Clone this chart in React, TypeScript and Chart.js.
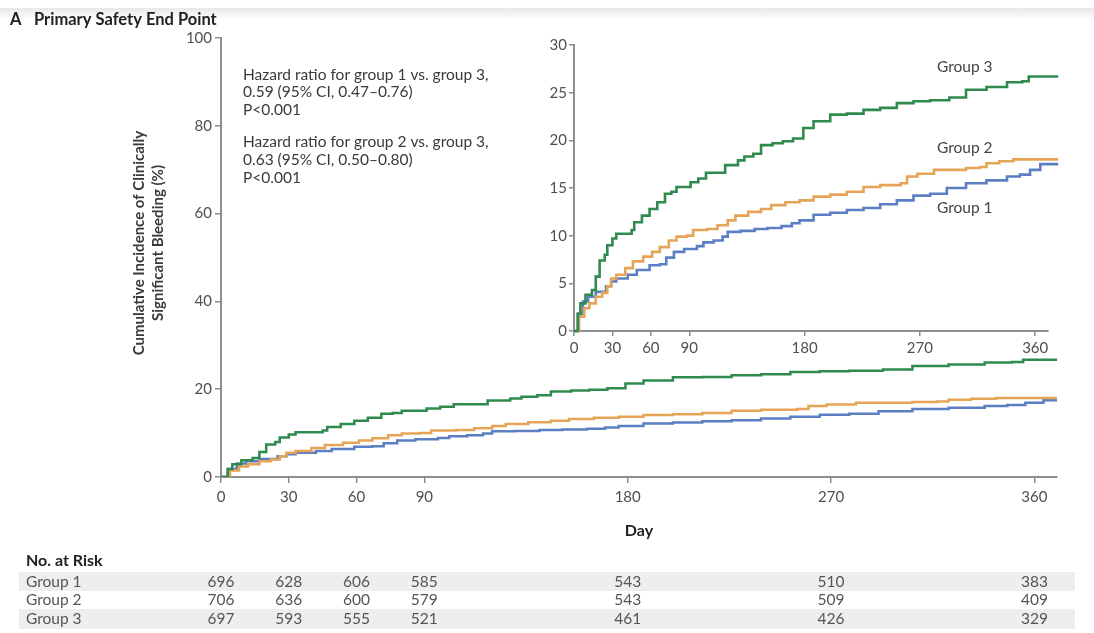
import React, { useEffect, useRef } from 'react';
import { Chart, registerables } from 'chart.js';

Chart.register(...registerables);

// ---------- data ----------
const group1Days = [0, 3, 7, 11, 17, 25, 29, 33, 42, 49, 59, 67, 72, 78, 86, 96, 101, 109, 116, 120, 130, 141, 151, 162, 170, 176, 187, 200, 213, 226, 239, 252, 265, 278, 291, 306, 322, 338, 348, 356, 364, 378];
const group1Values = [0, 1.8, 3.1, 3.6, 4.1, 4.7, 5.2, 5.5, 5.9, 6.4, 6.9, 7.0, 7.7, 8.3, 8.6, 8.9, 9.3, 9.5, 9.9, 10.4, 10.5, 10.7, 10.8, 11.0, 11.3, 11.6, 12.2, 12.4, 12.7, 12.9, 13.3, 13.7, 14.2, 14.4, 15.0, 15.5, 15.8, 16.2, 16.4, 16.9, 17.5, 17.5];

const group2Days = [0, 4, 8, 12, 17, 22, 26, 29, 33, 40, 46, 54, 61, 67, 74, 80, 88, 93, 104, 112, 120, 126, 136, 146, 154, 165, 176, 187, 200, 213, 226, 239, 255, 260, 268, 281, 306, 317, 322, 332, 343, 378];
const group2Values = [0, 1.5, 2.4, 2.9, 3.6, 4.0, 4.7, 5.5, 5.9, 6.6, 7.3, 7.8, 8.3, 8.8, 9.5, 9.9, 10.0, 10.6, 10.7, 11.1, 11.6, 12.1, 12.5, 12.8, 13.2, 13.5, 13.7, 14.1, 14.3, 14.6, 15.1, 15.3, 15.5, 16.2, 16.5, 16.9, 17.1, 17.2, 17.6, 17.8, 18.0, 18.0];

const group3Days = [0, 3, 5, 9, 14, 17, 20, 24, 26, 30, 33, 45, 47, 53, 59, 65, 71, 76, 80, 91, 97, 103, 118, 128, 133, 140, 146, 155, 163, 171, 179, 187, 200, 213, 226, 239, 252, 265, 278, 293, 306, 322, 338, 350, 355, 378];
const group3Values = [0, 1.8, 2.9, 3.8, 4.3, 5.7, 7.4, 8.0, 9.0, 9.7, 10.2, 10.6, 11.4, 12.1, 12.8, 13.5, 14.4, 14.6, 15.1, 15.6, 16.0, 16.6, 17.4, 17.9, 18.3, 18.6, 19.5, 19.7, 19.9, 20.2, 21.3, 22.0, 22.7, 22.8, 23.2, 23.4, 23.9, 24.1, 24.2, 24.5, 25.3, 25.6, 26.1, 26.2, 26.7, 26.7];

const xTickDays = [0, 30, 60, 90, 180, 270, 360];
const mainYTicks = [0, 20, 40, 60, 80, 100];
const insetYTicks = [0, 5, 10, 15, 20, 25, 30];

const riskGroupNames = ['Group 1', 'Group 2', 'Group 3'];
const riskGroup1 = [696, 628, 606, 585, 543, 510, 383];
const riskGroup2 = [706, 636, 600, 579, 543, 509, 409];
const riskGroup3 = [697, 593, 555, 521, 461, 426, 329];

const hazardLines = [
  'Hazard ratio for group 1 vs. group 3,',
  '0.59 (95% CI, 0.47\u20130.76)',
  'P<0.001',
  'Hazard ratio for group 2 vs. group 3,',
  '0.63 (95% CI, 0.50\u20130.80)',
  'P<0.001',
];
const yTitleLines = ['Cumulative Incidence of Clinically', 'Significant Bleeding (%)'];

// ---------- styles ----------
const FONT = "Lato, 'Open Sans', 'DejaVu Sans', sans-serif";
const GREEN = '#2f8a4e';
const ORANGE = '#e6a556';
const BLUE = '#5b7fc2';
const AXIS = '#8e8e8e';
const TICK_TEXT = '#505050';
const TEXT = '#3a3a3a';

const toPoints = (days: number[], vals: number[]) => days.map((d, i) => ({ x: d, y: vals[i] }));

function makeDatasets(width: number, clip: any) {
  return [
    { label: 'Group 3', data: toPoints(group3Days, group3Values), borderColor: GREEN, borderWidth: width, pointRadius: 0, stepped: true, fill: false, clip },
    { label: 'Group 2', data: toPoints(group2Days, group2Values), borderColor: ORANGE, borderWidth: width, pointRadius: 0, stepped: true, fill: false, clip },
    { label: 'Group 1', data: toPoints(group1Days, group1Values), borderColor: BLUE, borderWidth: width, pointRadius: 0, stepped: true, fill: false, clip },
  ];
}

function axisOpts(min: number, max: number, ticks: number[], tickLen: number, pad: number, fit: (s: any) => void) {
  return {
    type: 'linear' as const,
    min,
    max,
    afterFit: fit,
    afterBuildTicks: (s: any) => {
      s.ticks = ticks.map((v) => ({ value: v }));
    },
    ticks: { font: { family: FONT, size: 15 }, color: TICK_TEXT, padding: pad, autoSkip: false, maxRotation: 0 },
    grid: { drawOnChartArea: false, drawTicks: true, tickLength: tickLen, color: AXIS, lineWidth: 1.5 },
    border: { display: true, color: AXIS, width: 2 },
    title: { display: false },
  };
}

const mainDecor = {
  id: 'mainDecor',
  afterDraw(chart: any) {
    const ctx = chart.ctx as CanvasRenderingContext2D;
    const xs = chart.scales.x;
    ctx.save();
    // Panel title
    ctx.fillStyle = '#222';
    ctx.textBaseline = 'middle';
    ctx.textAlign = 'left';
    ctx.font = `bold 16.5px ${FONT}`;
    ctx.fillText('A', 10, 20);
    ctx.fillText('Primary Safety End Point', 34, 20);

    // Y-axis title (two lines, rotated)
    ctx.fillStyle = TEXT;
    ctx.font = `bold 15px ${FONT}`;
    ctx.textAlign = 'center';
    yTitleLines.forEach((line, i) => {
      ctx.save();
      ctx.translate(139 + i * 19, 243);
      ctx.rotate(-Math.PI / 2);
      ctx.fillText(line, 0, 0);
      ctx.restore();
    });

    // X-axis title
    ctx.font = `bold 16px ${FONT}`;
    ctx.fillStyle = '#222';
    ctx.fillText('Day', (chart.chartArea.left + chart.chartArea.right) / 2, 531);

    // Hazard ratio annotation
    ctx.font = `15.5px ${FONT}`;
    ctx.fillStyle = TEXT;
    ctx.textAlign = 'left';
    const hy = [75, 92, 109.5, 142, 160, 177.5];
    hazardLines.forEach((t, i) => ctx.fillText(t, 243, hy[i]));

    // Risk table
    ctx.fillStyle = '#eeeeee';
    ctx.fillRect(19, 572, 1056, 19);
    ctx.fillRect(19, 609, 1056, 20);
    ctx.fillStyle = '#222';
    ctx.font = `bold 16px ${FONT}`;
    ctx.fillText('No. at Risk', 26, 561);
    const rowsY = [582, 600, 619];
    const rows = [riskGroup1, riskGroup2, riskGroup3];
    ctx.font = `15.5px ${FONT}`;
    ctx.fillStyle = '#555';
    rows.forEach((row, r) => {
      ctx.textAlign = 'left';
      ctx.fillText(riskGroupNames[r], 26, rowsY[r]);
      ctx.textAlign = 'center';
      row.forEach((n, i) => {
        ctx.fillText(String(n), xs.getPixelForValue(xTickDays[i]), rowsY[r]);
      });
    });
    ctx.restore();
  },
};

const insetDecor = {
  id: 'insetDecor',
  afterDraw(chart: any) {
    const ctx = chart.ctx as CanvasRenderingContext2D;
    const c = chart.canvas.getBoundingClientRect();
    ctx.save();
    ctx.font = `15.5px ${FONT}`;
    ctx.fillStyle = '#444';
    ctx.textBaseline = 'middle';
    ctx.textAlign = 'left';
    const labels = ['Group 3', 'Group 2', 'Group 1'];
    const ly = [67, 148, 208];
    labels.forEach((t, i) => ctx.fillText(t, 937 - c.left, ly[i] - c.top));
    ctx.restore();
  },
};

// Inset placement
const INSET_LEFT = 520;
const INSET_TOP = 25;
const INSET_W = 540;
const INSET_H = 335;

export default function App() {
  const mainRef = useRef<HTMLCanvasElement>(null);
  const insetRef = useRef<HTMLCanvasElement>(null);

  useEffect(() => {
    document.body.style.margin = '0';
    const main = new Chart(mainRef.current as HTMLCanvasElement, {
      type: 'line',
      data: { datasets: makeDatasets(2.5, undefined) as any },
      options: {
        animation: false,
        responsive: false,
        maintainAspectRatio: false,
        layout: { padding: { left: 0, top: 38, right: 37, bottom: 0 } },
        plugins: { legend: { display: false }, tooltip: { enabled: false } },
        scales: {
          x: axisOpts(0, 370, xTickDays, 6, 5, (s: any) => { s.height = 156; }) as any,
          y: axisOpts(0, 100, mainYTicks, 6, 3, (s: any) => { s.width = 221; }) as any,
        },
      },
      plugins: [mainDecor],
    });

    const inset = new Chart(insetRef.current as HTMLCanvasElement, {
      type: 'line',
      data: { datasets: makeDatasets(2.6, { left: 2, top: 3, right: 12, bottom: 2 }) as any },
      options: {
        animation: false,
        responsive: false,
        maintainAspectRatio: false,
        layout: { padding: { left: 0, top: 45 - INSET_TOP, right: INSET_LEFT + INSET_W - 1048, bottom: 0 } },
        plugins: { legend: { display: false }, tooltip: { enabled: false } },
        scales: {
          x: axisOpts(0, 370, xTickDays, 5, 3, (s: any) => { s.height = INSET_TOP + INSET_H - 331; }) as any,
          y: axisOpts(0, 30, insetYTicks, 5, 2, (s: any) => { s.width = 574 - INSET_LEFT; }) as any,
        },
      },
      plugins: [insetDecor],
    });

    return () => {
      main.destroy();
      inset.destroy();
    };
  }, []);

  return (
    <div style={{ position: 'absolute', left: 0, top: 0, width: 1094, height: 633, background: '#fff', overflow: 'hidden' }}>
      <div style={{ position: 'absolute', left: 0, top: 8, width: 1094, height: 12, background: 'linear-gradient(#e8e8e8, rgba(255,255,255,0))' }} />
      <canvas ref={mainRef} width={1094} height={633} style={{ position: 'absolute', left: 0, top: 0, display: 'block' }} />
      <canvas ref={insetRef} width={INSET_W} height={INSET_H} style={{ position: 'absolute', left: INSET_LEFT, top: INSET_TOP, display: 'block' }} />
    </div>
  );
}
